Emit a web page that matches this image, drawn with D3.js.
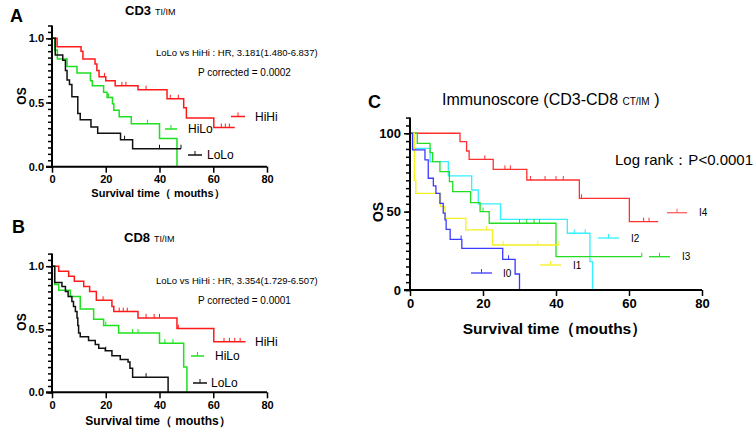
<!DOCTYPE html>
<html><head><meta charset="utf-8">
<script src="https://cdn.jsdelivr.net/npm/d3@7"></script>
<style>
html,body{margin:0;padding:0;background:#fff;}
svg{display:block;font-family:Arial,"Liberation Sans",sans-serif;}
</style></head>
<body>
<svg id="chart" width="753" height="428"></svg>
<script>
// ---------- DATA ----------
const xTicks = [0, 20, 40, 60, 80];
const abYTicks = [0, 0.5, 1.0];
const abYTickLabels = ["0.0", "0.5", "1.0"];
const cYTicks = [0, 50, 100];
const cYTickLabels = ["0", "50", "100"];

// Panel A (CD3 TI/IM): step points [time, survival]
const aHiHi = [[0,1],[1.9,0.935],[10.8,0.9],[11.5,0.84],[16,0.8],[16.7,0.75],[17.5,0.7],[20,0.67],[23.5,0.63],[32,0.6],[42.8,0.53],[49,0.46],[50,0.38],[60.2,0.305],[68,0.305]];
const aHiHiCens = [19.5, 26, 27.5, 35, 44, 47, 63, 64.5, 66];
const aHiLo = [[0,1],[1,0.91],[2,0.84],[5.6,0.78],[9.3,0.73],[14.3,0.67],[15,0.63],[19.2,0.58],[20.5,0.54],[22.5,0.49],[23,0.44],[25,0.39],[29.5,0.335],[40,0.22],[46.5,0],[46.5,0]];
const aHiLoCens = [21, 35.5];
const aLoLo = [[0,1],[1.2,0.87],[4,0.83],[5,0.75],[5.6,0.675],[6.5,0.64],[7.4,0.545],[9.6,0.415],[10.5,0.365],[14.5,0.31],[17,0.26],[25.5,0.21],[30,0.14],[48,0.14]];
const aLoLoCens = [27, 40, 48];

// Panel B (CD8 TI/IM)
const bHiHi = [[0,1],[2.5,0.96],[6.2,0.92],[8.3,0.88],[11.8,0.84],[14,0.8],[16.5,0.73],[22.3,0.68],[23,0.64],[32,0.59],[46.5,0.505],[60.2,0.4],[72,0.4]];
const bHiHiCens = [19, 25, 26.5, 28, 35, 38, 40, 47, 64, 66, 68, 70];
const bHiLo = [[0,1],[1,0.855],[2.5,0.81],[6.8,0.76],[10.5,0.66],[15.5,0.58],[19.2,0.53],[24.8,0.47],[40,0.39],[49,0.2],[50.2,0],[50.2,0]];
const bHiLoCens = [20, 30, 32, 42, 45];
const bLoLo = [[0,1],[1,0.87],[3.7,0.84],[5,0.8],[6,0.76],[7.4,0.72],[8,0.68],[8.7,0.64],[9.3,0.59],[9.6,0.53],[9.9,0.47],[10.5,0.44],[13.6,0.41],[16.1,0.38],[17.4,0.35],[19.8,0.33],[22.3,0.29],[25.4,0.26],[28.3,0.24],[29,0.19],[30,0.12],[43.2,0],[43.2,0]];
const bLoLoCens = [20, 35];

// Panel C (Immunoscore), survival in %
const cI4 = [[0,100],[13.7,94.7],[15.5,88.7],[16.2,83.4],[22.8,77],[32,70.2],[46.4,58.5],[60.1,43.6],[68,43.6]];
const cI4Cens = [20.5, 26, 27.5, 33, 37, 40, 42, 47, 64, 65.5];
const cI2 = [[0,100],[0.7,90.4],[5.5,81.9],[10.5,72.8],[16.9,63.8],[18.7,54.9],[24.8,45.1],[43.1,36.2],[49.3,18.1],[50,0],[50,0]];
const cI2Cens = [45, 48];
const cI3 = [[0,100],[2,93.6],[5.5,87.7],[6.2,81.9],[8.2,75.5],[10.8,69.1],[11.7,62.8],[16.6,55.7],[19.2,50],[21.7,42.6],[40,21.3],[63.5,21.3]];
const cI3Cens = [20, 30, 32, 34, 35.5, 63.5];
const cI1 = [[0,100],[1.2,70],[1.6,61.7],[8.4,53.2],[9.6,45.7],[15.3,38.3],[22.6,28.7],[40.8,28.7]];
const cI1Cens = [21, 25.5, 35, 40.8];
const cI0 = [[0,100],[0.7,89.4],[4.1,83],[5,71.3],[6.4,66.4],[7.1,61.7],[8.2,55.3],[9.1,49],[9.6,44.7],[9.9,38.7],[11,32.3],[14.2,26.6],[25.4,19.6],[28.8,10.2],[30,0],[30,0]];
const cI0Cens = [14, 27];

// ---------- DRAW ----------
const svg = d3.select("#chart");
const FONT = 'Arial,"Liberation Sans",sans-serif';

function survAt(series, t) {
  let s = series[0][1];
  for (const p of series) { if (p[0] <= t) s = p[1]; else break; }
  return s;
}

function drawPanel(cfg) {
  const g = svg.append("g");
  const x = d3.scaleLinear().domain([0, 80]).range(cfg.xRange);
  const y = d3.scaleLinear().domain(cfg.yDomain).range(cfg.yRange);

  // series
  const line = d3.line().x(d => x(d[0])).y(d => y(d[1])).curve(d3.curveStepAfter);
  cfg.series.forEach(s => {
    g.append("path").datum(s.data).attr("d", line)
      .attr("fill", "none").attr("stroke", s.color).attr("stroke-width", cfg.lw);
    g.selectAll(null).data(s.cens).enter().append("line")
      .attr("x1", d => x(d)).attr("x2", d => x(d))
      .attr("y1", d => y(survAt(s.data, d))).attr("y2", d => y(survAt(s.data, d)) - 4)
      .attr("stroke", s.color).attr("stroke-width", 1);
  });

  // y axis: minor ticks
  const ya = g.append("g").attr("transform", `translate(${cfg.xRange[0]},0)`)
    .call(d3.axisLeft(y).tickValues(cfg.minorY).tickSize(4).tickFormat(() => ""));
  ya.select(".domain").remove();
  ya.selectAll(".tick line").attr("stroke", "#000").attr("stroke-width", 1.5);
  // y axis: major ticks + labels
  const yb = g.append("g").attr("transform", `translate(${cfg.xRange[0]},0)`)
    .call(d3.axisLeft(y).tickValues(cfg.yTicks).tickSize(6).tickPadding(cfg.yPad)
      .tickFormat((d, i) => cfg.yTickLabels[i]));
  yb.select(".domain").attr("stroke", "#000").attr("stroke-width", 2)
    .attr("d", `M0,${cfg.yRange[1]}V${cfg.yRange[0] + 1}`);
  yb.selectAll(".tick line").attr("stroke", "#000").attr("stroke-width", 1.5);
  yb.selectAll(".tick text").attr("font-family", FONT).attr("font-weight", "bold")
    .attr("font-size", cfg.tickFs).attr("fill", "#000");

  // x axis
  const xa = g.append("g").attr("transform", `translate(0,${cfg.yRange[0]})`)
    .call(d3.axisBottom(x).tickValues(xTicks).tickSize(6).tickPadding(3));
  xa.select(".domain").attr("stroke", "#000").attr("stroke-width", 2)
    .attr("d", `M${cfg.xRange[0] - 6},0H${cfg.xRange[1]}`);
  xa.selectAll(".tick line").attr("stroke", "#000").attr("stroke-width", 1.5);
  xa.selectAll(".tick text").attr("font-family", FONT).attr("font-weight", "bold")
    .attr("font-size", cfg.tickFs).attr("fill", "#000");

  // axis titles
  g.append("text").attr("x", cfg.xLabel.x).attr("y", cfg.xLabel.y).attr("text-anchor", "middle")
    .attr("font-weight", "bold").attr("font-size", cfg.xLabel.fs).text(cfg.xLabel.text);
  g.append("text").attr("transform", `translate(${cfg.yLabel.x},${cfg.yLabel.y}) rotate(-90)`)
    .attr("text-anchor", "middle").attr("font-weight", "bold").attr("font-size", cfg.yLabel.fs)
    .text("OS");

  // legend
  cfg.legend.forEach(l => {
    if (l.x2 > l.x1) {
      g.append("line").attr("x1", l.x1).attr("x2", l.x2).attr("y1", l.y).attr("y2", l.y)
        .attr("stroke", l.color).attr("stroke-width", cfg.lw);
      const mx = (l.x1 + l.x2) / 2;
      g.append("line").attr("x1", mx).attr("x2", mx).attr("y1", l.y).attr("y2", l.y - 4)
        .attr("stroke", l.color).attr("stroke-width", 1);
    }
    g.append("text").attr("x", l.tx).attr("y", l.y + l.fs * 0.36).attr("font-size", l.fs)
      .text(l.text);
  });
  return g;
}

const abMinor = d3.range(0, 1.101, 0.05);
const cMinor = d3.range(0, 110.1, 5);

// Panel A
drawPanel({
  xRange: [52, 267], yDomain: [0, 1.1], yRange: [166.7, 25.5], lw: 1.5, tickFs: 11, yPad: 2,
  yTicks: abYTicks, yTickLabels: abYTickLabels, minorY: abMinor,
  series: [
    {data: aHiHi, cens: aHiHiCens, color: "#ff1a1a"},
    {data: aHiLo, cens: aHiLoCens, color: "#1ee01e"},
    {data: aLoLo, cens: aLoLoCens, color: "#111"}
  ],
  xLabel: {x: 158, y: 197, fs: 11, text: "Survival time（ mouths）"},
  yLabel: {x: 26, y: 96, fs: 12},
  legend: [
    {x1: 231, x2: 245, y: 116.5, color: "#ff1a1a", tx: 255, text: "HiHi", fs: 12},
    {x1: 165, x2: 177, y: 129, color: "#1ee01e", tx: 188, text: "HiLo", fs: 12},
    {x1: 188, x2: 202, y: 155, color: "#111", tx: 207, text: "LoLo", fs: 12}
  ]
});

// Panel B
drawPanel({
  xRange: [52, 267], yDomain: [0, 1.1], yRange: [392.3, 253.6], lw: 1.5, tickFs: 11, yPad: 2,
  yTicks: abYTicks, yTickLabels: abYTickLabels, minorY: abMinor,
  series: [
    {data: bHiHi, cens: bHiHiCens, color: "#ff1a1a"},
    {data: bHiLo, cens: bHiLoCens, color: "#1ee01e"},
    {data: bLoLo, cens: bLoLoCens, color: "#111"}
  ],
  xLabel: {x: 158, y: 425, fs: 12, text: "Survival time（ mouths）"},
  yLabel: {x: 26, y: 322, fs: 12},
  legend: [
    {x1: 0, x2: 0, y: 342, color: "#ff1a1a", tx: 255, text: "HiHi", fs: 12},
    {x1: 191, x2: 204, y: 356, color: "#1ee01e", tx: 215, text: "HiLo", fs: 12},
    {x1: 193, x2: 207, y: 383, color: "#111", tx: 211, text: "LoLo", fs: 12}
  ]
});

// Panel C
drawPanel({
  xRange: [410, 702], yDomain: [0, 110], yRange: [290, 117.6], lw: 1.3, tickFs: 13, yPad: 3,
  yTicks: cYTicks, yTickLabels: cYTickLabels, minorY: cMinor,
  series: [
    {data: cI4, cens: cI4Cens, color: "#ff3030"},
    {data: cI2, cens: cI2Cens, color: "#33f0ff"},
    {data: cI3, cens: cI3Cens, color: "#22dd22"},
    {data: cI1, cens: cI1Cens, color: "#f5f020"},
    {data: cI0, cens: cI0Cens, color: "#3a3aff"}
  ],
  xLabel: {x: 555, y: 334, fs: 15.5, text: "Survival time（mouths）"},
  yLabel: {x: 383, y: 212, fs: 14},
  legend: [
    {x1: 667, x2: 687, y: 212.7, color: "#ff6060", tx: 699, text: "I4", fs: 10},
    {x1: 598, x2: 619, y: 238, color: "#33f0ff", tx: 631, text: "I2", fs: 10},
    {x1: 649, x2: 670, y: 256.7, color: "#22dd22", tx: 682, text: "I3", fs: 10},
    {x1: 540, x2: 561, y: 265, color: "#f5f020", tx: 573, text: "I1", fs: 10},
    {x1: 471, x2: 492, y: 273, color: "#3a3aff", tx: 503, text: "I0", fs: 10}
  ]
});

// Panel letters, titles, annotations
const txt = (x, y, s, fs, w, anchor) => svg.append("text").attr("x", x).attr("y", y)
  .attr("font-size", fs).attr("font-weight", w || "normal").attr("text-anchor", anchor || "start").text(s);

txt(10, 22, "A", 18, "bold");
txt(12, 233, "B", 18, "bold");
txt(368, 108, "C", 18, "bold");

const t1 = svg.append("text").attr("x", 125).attr("y", 15);
t1.append("tspan").attr("font-size", 13).attr("font-weight", "bold").text("CD3");
t1.append("tspan").attr("font-size", 9).attr("dx", 4).text("TI/IM");
const t2 = svg.append("text").attr("x", 124).attr("y", 242);
t2.append("tspan").attr("font-size", 13).attr("font-weight", "bold").text("CD8");
t2.append("tspan").attr("font-size", 9).attr("dx", 4).text("TI/IM");
const t3 = svg.append("text").attr("x", 442).attr("y", 105);
t3.append("tspan").attr("font-size", 16).text("Immunoscore (CD3-CD8 ");
t3.append("tspan").attr("font-size", 10).text("CT/IM");
t3.append("tspan").attr("font-size", 16).text(" )");

txt(156, 56, "LoLo vs HiHi : HR,  3.181(1.480-6.837)", 9.5);
txt(198, 76, "P corrected = 0.0002", 10);
txt(156, 284, "LoLo vs HiHi : HR,  3.354(1.729-6.507)", 9.5);
txt(198, 304, "P corrected = 0.0001", 10);
txt(615, 165, "Log rank：P<0.0001", 15);
</script>
</body></html>
